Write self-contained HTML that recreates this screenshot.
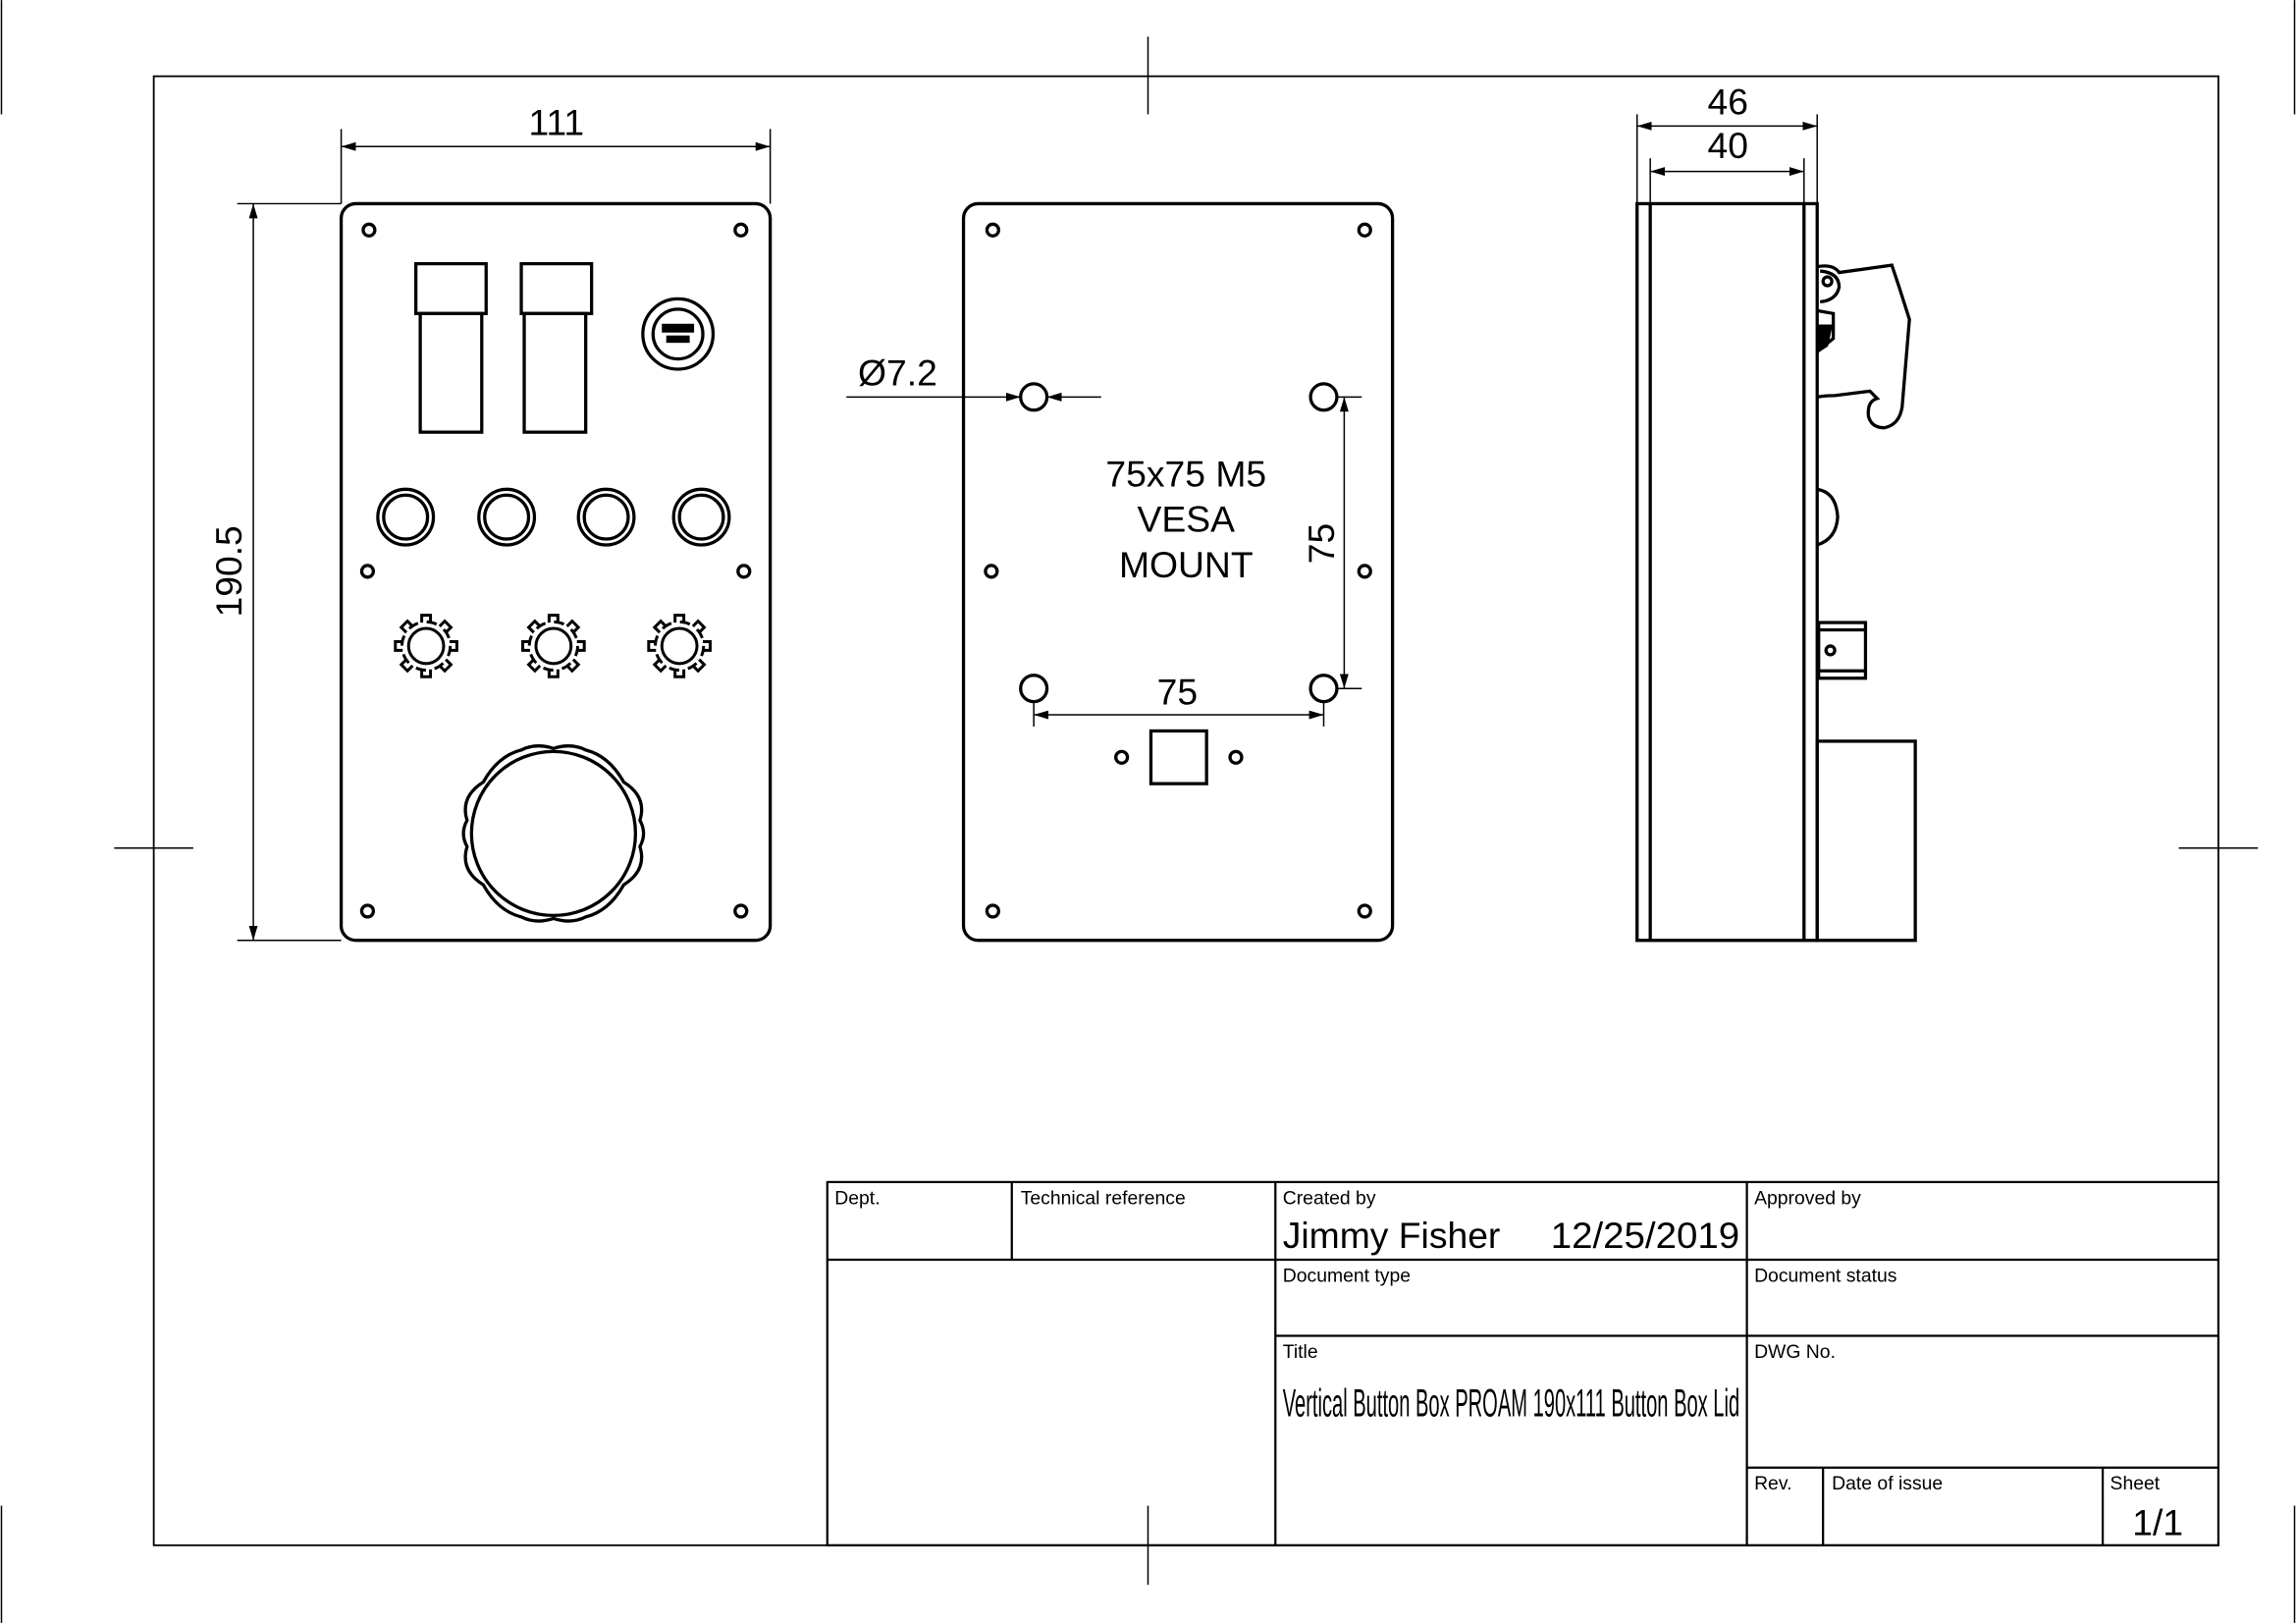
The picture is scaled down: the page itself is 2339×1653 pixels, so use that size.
<!DOCTYPE html>
<html><head><meta charset="utf-8"><style>
html,body{margin:0;padding:0;background:#fff;}
svg{display:block;}
text{font-family:"Liberation Sans",sans-serif;fill:#000;}
</style></head><body>
<svg width="2339" height="1653" viewBox="0 0 1568 1108" xmlns="http://www.w3.org/2000/svg">
<defs>
<marker id="ar" viewBox="0 0 10 6" refX="10" refY="3" markerWidth="10" markerHeight="6" orient="auto-start-reverse" markerUnits="userSpaceOnUse">
<path d="M0,0 L10,3 L0,6 z" fill="#000"/></marker>
<g id="gear" fill="none" stroke="#000" stroke-width="2">
<circle r="12"/>
<path id="tooth" d="M-3,-16 L-3,-21 L3,-21 L3,-16"/>
<use href="#tooth" transform="rotate(45)"/><use href="#tooth" transform="rotate(90)"/><use href="#tooth" transform="rotate(135)"/><use href="#tooth" transform="rotate(180)"/><use href="#tooth" transform="rotate(225)"/><use href="#tooth" transform="rotate(270)"/><use href="#tooth" transform="rotate(315)"/>
<circle r="16.5" stroke-dasharray="7 6"/>
</g>
</defs>
<rect width="1568" height="1108" fill="#fff"/>
<g stroke="#000" fill="none">
<rect x="105" y="52" width="1410" height="1003" stroke-width="1.2"/>
<line x1="784" y1="25" x2="784" y2="78" stroke-width="1"/>
<line x1="784" y1="1028" x2="784" y2="1082" stroke-width="1"/>
<line x1="78" y1="579" x2="132" y2="579" stroke-width="1"/>
<line x1="1488" y1="579" x2="1542" y2="579" stroke-width="1"/>
<line x1="1" y1="0" x2="1" y2="78" stroke-width="1"/>
<line x1="1567" y1="0" x2="1567" y2="78" stroke-width="1"/>
<line x1="1" y1="1028" x2="1" y2="1108" stroke-width="1"/>
<line x1="1567" y1="1028" x2="1567" y2="1108" stroke-width="1"/>
<g stroke-width="1.5">
<rect x="565" y="807" width="950" height="248"/>
<line x1="565" y1="860" x2="1515" y2="860"/>
<line x1="871" y1="912" x2="1515" y2="912"/>
<line x1="1193" y1="1002" x2="1515" y2="1002"/>
<line x1="691" y1="807" x2="691" y2="860"/>
<line x1="871" y1="807" x2="871" y2="1055"/>
<line x1="1193" y1="807" x2="1193" y2="1055"/>
<line x1="1245" y1="1002" x2="1245" y2="1055"/>
<line x1="1436" y1="1002" x2="1436" y2="1055"/>
</g>
<g stroke-width="2.2">
<rect x="233" y="139" width="293" height="503" rx="10"/>
<circle cx="252" cy="157" r="4"/><circle cx="506" cy="157" r="4"/>
<circle cx="251" cy="390" r="4"/><circle cx="508" cy="390" r="4"/>
<circle cx="251" cy="622" r="4"/><circle cx="506" cy="622" r="4"/>
<rect x="287" y="214" width="42" height="81"/>
<rect x="284" y="180" width="48" height="34"/>
<rect x="358" y="214" width="42" height="81"/>
<rect x="356" y="180" width="48" height="34"/>
<circle cx="463" cy="228" r="24"/><circle cx="463" cy="228" r="17"/>
<circle cx="277" cy="353" r="19"/><circle cx="277" cy="353" r="15"/>
<circle cx="346" cy="353" r="19"/><circle cx="346" cy="353" r="15"/>
<circle cx="414" cy="353" r="19"/><circle cx="414" cy="353" r="15"/>
<circle cx="479" cy="353" r="19"/><circle cx="479" cy="353" r="15"/>
<circle cx="378" cy="569" r="56"/>
<path d="M330,534 Q340,516 356,512 Q366,507 378,511 Q390,507 400,512 Q416,516 426,534 Q442,544 437,560 Q442,569 437,578 Q442,594 426,604 Q416,622 400,626 Q390,631 378,627 Q366,631 356,626 Q340,622 330,604 Q314,594 319,578 Q314,569 319,560 Q314,544 330,534 Z"/>
</g>
<rect x="452" y="221" width="22" height="6" fill="#000" stroke="none"/>
<rect x="455" y="229" width="16" height="5" fill="#000" stroke="none"/>
<use href="#gear" x="291" y="441"/>
<use href="#gear" x="378" y="441"/>
<use href="#gear" x="464" y="441"/>
<g stroke-width="1">
<line x1="233" y1="139" x2="233" y2="88"/>
<line x1="526" y1="139" x2="526" y2="88"/>
<line x1="233" y1="100" x2="526" y2="100" marker-start="url(#ar)" marker-end="url(#ar)"/>
<line x1="233" y1="139" x2="162" y2="139"/>
<line x1="233" y1="642" x2="162" y2="642"/>
<line x1="173" y1="139" x2="173" y2="642" marker-start="url(#ar)" marker-end="url(#ar)"/>
</g>
<g stroke-width="2.2">
<rect x="658" y="139" width="293" height="503" rx="10"/>
<circle cx="678" cy="157" r="4"/><circle cx="932" cy="157" r="4"/>
<circle cx="677" cy="390" r="4"/><circle cx="932" cy="390" r="4"/>
<circle cx="678" cy="622" r="4"/><circle cx="932" cy="622" r="4"/>
<circle cx="706" cy="271" r="9"/><circle cx="904" cy="271" r="9"/>
<circle cx="706" cy="470" r="9"/><circle cx="904" cy="470" r="9"/>
<circle cx="766" cy="517" r="4"/><circle cx="844" cy="517" r="4"/>
<rect x="786" y="499" width="38" height="36"/>
</g>
<g stroke-width="1">
<line x1="578" y1="271" x2="697" y2="271" marker-end="url(#ar)"/>
<line x1="752" y1="271" x2="715" y2="271" marker-end="url(#ar)"/>
<line x1="706" y1="479" x2="706" y2="496"/>
<line x1="904" y1="479" x2="904" y2="496"/>
<line x1="706" y1="488" x2="904" y2="488" marker-start="url(#ar)" marker-end="url(#ar)"/>
<line x1="913" y1="271" x2="930" y2="271"/>
<line x1="913" y1="470" x2="930" y2="470"/>
<line x1="918" y1="271" x2="918" y2="470" marker-start="url(#ar)" marker-end="url(#ar)"/>
</g>
<g stroke-width="2.2">
<rect x="1118" y="139" width="123" height="503"/>
<line x1="1127" y1="139" x2="1127" y2="642"/>
<line x1="1232" y1="139" x2="1232" y2="642"/>
<path d="M1241,182 Q1252,180 1256,186 L1292,181 L1297,196 L1304,218 L1299,278 Q1297,290 1287,292 Q1278,292 1276,284 Q1275,274 1282,272 L1277,267 L1253,270 Q1246,270 1241,271"/>
<path d="M1243,185 Q1256,186 1256,196 Q1254,205 1243,206"/>
<circle cx="1248" cy="192" r="3"/>
<path d="M1241,212 L1252,214 L1252,231 L1241,240"/>
<path d="M1241,334 Q1254,336 1255,353 Q1254,368 1241,372"/>
<rect x="1242" y="425" width="32" height="38"/>
<line x1="1242" y1="430" x2="1274" y2="430"/>
<line x1="1242" y1="458" x2="1274" y2="458"/>
<circle cx="1250" cy="444" r="3"/>
<rect x="1241" y="506" width="67" height="136"/>
</g>
<path d="M1242,222 L1251,222 L1248,236 L1242,240 Z" fill="#000"/>
<g stroke-width="1">
<line x1="1118" y1="139" x2="1118" y2="78"/>
<line x1="1241" y1="139" x2="1241" y2="78"/>
<line x1="1118" y1="86" x2="1241" y2="86" marker-start="url(#ar)" marker-end="url(#ar)"/>
<line x1="1127" y1="139" x2="1127" y2="108"/>
<line x1="1232" y1="139" x2="1232" y2="108"/>
<line x1="1127" y1="117" x2="1232" y2="117" marker-start="url(#ar)" marker-end="url(#ar)"/>
</g>
</g>
<text x="380" y="92" font-size="25" text-anchor="middle">111</text>
<text transform="translate(165,390) rotate(-90)" font-size="25" text-anchor="middle">190.5</text>
<text x="613" y="263" font-size="25" text-anchor="middle">Ø7.2</text>
<text x="810" y="332" font-size="25" text-anchor="middle">75x75 M5</text>
<text x="810" y="363" font-size="25" text-anchor="middle">VESA</text>
<text x="810" y="394" font-size="25" text-anchor="middle">MOUNT</text>
<text x="804" y="481" font-size="25" text-anchor="middle">75</text>
<text transform="translate(911,371) rotate(-90)" font-size="25" text-anchor="middle">75</text>
<text x="1180" y="78" font-size="25" text-anchor="middle">46</text>
<text x="1180" y="108" font-size="25" text-anchor="middle">40</text>
<g font-size="13">
<text x="570" y="822">Dept.</text>
<text x="697" y="822">Technical reference</text>
<text x="876" y="822">Created by</text>
<text x="1198" y="822">Approved by</text>
<text x="876" y="875">Document type</text>
<text x="1198" y="875">Document status</text>
<text x="876" y="927">Title</text>
<text x="1198" y="927">DWG No.</text>
<text x="1198" y="1017">Rev.</text>
<text x="1251" y="1017">Date of issue</text>
<text x="1441" y="1017">Sheet</text>
</g>
<text x="876" y="852" font-size="25">Jimmy Fisher</text>
<text x="1059" y="852" font-size="25" textLength="129" lengthAdjust="spacingAndGlyphs">12/25/2019</text>
<text x="876" y="967" font-size="27" textLength="312" lengthAdjust="spacingAndGlyphs">Vertical Button Box PROAM 190x111 Button Box Lid</text>
<text x="1491" y="1048" font-size="25" text-anchor="end">1/1</text>
</svg>
</body></html>
